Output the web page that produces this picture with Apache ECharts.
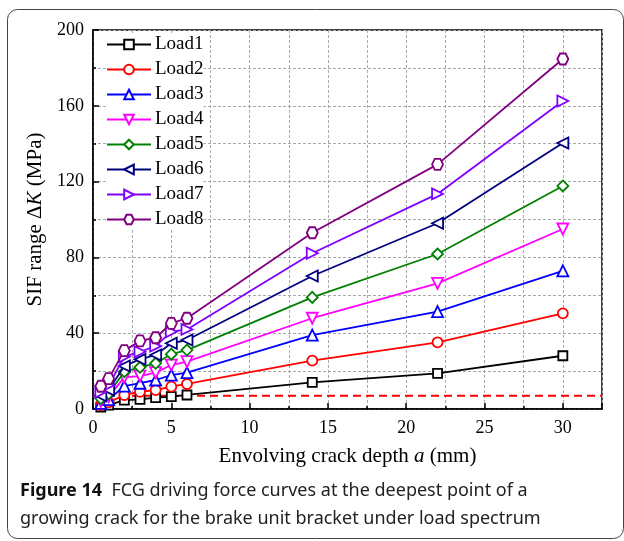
<!DOCTYPE html>
<html>
<head>
<meta charset="utf-8">
<script src="https://cdn.jsdelivr.net/npm/echarts@6/dist/echarts.min.js"></script>
<style>html,body{margin:0;padding:0;background:#fff}#c{width:624px;height:541px}</style>
</head>
<body>
<div id="c"></div>
<script>
// ---- data ----
var crackDepth = [0.5, 1, 2, 3, 4, 5, 6, 14, 22, 30];
var load1 = [1.0, 2.0, 4.7, 5.1, 6.0, 6.5, 7.4, 14.1, 18.8, 28.1];
var load2 = [2.0, 3.5, 7.4, 9.1, 10.0, 11.8, 13.2, 25.5, 35.2, 50.5];
var load3 = [3.0, 5.0, 12.1, 13.6, 15.3, 17.9, 19.2, 39.0, 51.4, 72.9];
var load4 = [4.0, 6.5, 16.7, 17.4, 19.2, 23.2, 25.0, 47.9, 66.3, 95.0];
var load5 = [5.5, 8.0, 19.7, 22.0, 24.1, 28.9, 31.1, 58.9, 81.8, 117.7];
var load6 = [7.0, 10.0, 22.7, 26.2, 28.5, 34.7, 36.4, 70.2, 98.0, 140.4];
var load7 = [9.0, 12.5, 27.6, 30.2, 33.2, 40.8, 42.0, 82.2, 113.5, 162.5];
var load8 = [12.0, 16.0, 30.8, 35.9, 37.6, 45.2, 47.9, 93.0, 129.1, 184.7];
var seriesNames = ['Load1','Load2','Load3','Load4','Load5','Load6','Load7','Load8'];
var thresholdValue = 7;
var xRange = [0, 32.5];
var yRange = [0, 200];

// ---- styles ----
var seriesValues = [load1, load2, load3, load4, load5, load6, load7, load8];
var colors = ['#000000','#ff0000','#0000ff','#ff00ff','#008000','#000080','#8000ff','#800080'];
var hexagon = 'path://M-1,0 L-0.5,-0.866 L0.5,-0.866 L1,0 L0.5,0.866 L-0.5,0.866 Z';
var symbols = ['rect','circle','triangle','triangle','diamond','triangle','triangle', hexagon];
var rotations = [0,0,0,180,0,90,-90,0];
var sizes = [9,10,11,11,11,11,11,11];
var serif = '"Liberation Serif","Times New Roman",serif';
var sans = '"Noto Sans","Open Sans",sans-serif';

function pairs(vals){ return crackDepth.map(function(x,i){ return [x, vals[i]]; }); }

var series = seriesNames.map(function(n, k){
  return {
    name: n, type: 'line', xAxisIndex: 0, yAxisIndex: 0,
    data: pairs(seriesValues[k]),
    symbol: symbols[k], symbolSize: sizes[k], symbolRotate: rotations[k],
    showAllSymbol: true,
    lineStyle: {color: colors[k], width: 1.8},
    itemStyle: {color: '#ffffff', borderColor: colors[k], borderWidth: 1.8},
    z: 3 + k, animation: false
  };
});
series.unshift({
  name: 'threshold', type: 'line', xAxisIndex: 0, yAxisIndex: 0,
  data: [[xRange[0], thresholdValue], [xRange[1], thresholdValue]],
  symbol: 'none', lineStyle: {color: '#ff0000', width: 2, type: [8, 5]},
  z: 2, animation: false, silent: true
});

var chart = echarts.init(document.getElementById('c'), null, {renderer: 'canvas'});
chart.setOption({
  animation: false,
  backgroundColor: '#ffffff',
  grid: {left: 93, top: 30, right: 22, bottom: 132, show: true, borderColor: '#000', borderWidth: 1.5, backgroundColor: 'transparent'},
  legend: {
    data: seriesNames, orient: 'vertical', left: 106, top: 35, padding: 0,
    itemWidth: 44, itemHeight: 12, itemGap: 6,
    textStyle: {fontFamily: serif, fontSize: 19, color: '#000', lineHeight: 18, padding: [0, 0, 0, -1]},
    backgroundColor: '#fff'
  },
  xAxis: [
    {type: 'value', min: xRange[0], max: xRange[1], interval: 5, position: 'bottom',
     name: '{r|Envolving crack depth }{i|a}{r| (mm)}', nameLocation: 'middle', nameGap: 37,
     nameTextStyle: {rich: {r: {fontFamily: serif, fontSize: 21, color: '#000'}, i: {fontFamily: serif, fontSize: 21, fontStyle: 'italic', color: '#000'}}},
     axisLine: {show: true, lineStyle: {color: '#000', width: 1.5}},
     axisTick: {show: true, inside: true, length: 6, lineStyle: {color: '#000', width: 1.5}},
     axisLabel: {margin: 10, fontFamily: serif, fontSize: 18, color: '#000',
       formatter: function(v){ return (v % 5 === 0) ? String(v) : ''; }},
     splitLine: {show: false}},
    {type: 'value', min: xRange[0], max: xRange[1], interval: 2.5, position: 'bottom',
     axisLine: {show: false}, axisLabel: {show: false},
     axisTick: {show: true, inside: true, length: 3, lineStyle: {color: '#000', width: 1.5}},
     splitLine: {show: true, lineStyle: {color: '#a8a8a8', width: 1, type: [3, 2]}}}
  ],
  yAxis: [
    {type: 'value', min: yRange[0], max: yRange[1], interval: 40, position: 'left',
     name: '{r|SIF range Δ}{i|K}{r| (MPa)}', nameLocation: 'middle', nameGap: 44, nameRotate: 90,
     nameTextStyle: {rich: {r: {fontFamily: serif, fontSize: 21, color: '#000'}, i: {fontFamily: serif, fontSize: 21, fontStyle: 'italic', color: '#000'}}},
     axisLine: {show: true, lineStyle: {color: '#000', width: 1.5}},
     axisTick: {show: true, inside: true, length: 6, lineStyle: {color: '#000', width: 1.5}},
     axisLabel: {margin: 9, fontFamily: serif, fontSize: 18, color: '#000'},
     splitLine: {show: false}},
    {type: 'value', min: yRange[0], max: yRange[1], interval: 20, position: 'left',
     axisLine: {show: false}, axisLabel: {show: false},
     axisTick: {show: true, inside: true, length: 3, lineStyle: {color: '#000', width: 1.5}},
     splitLine: {show: true, lineStyle: {color: '#a8a8a8', width: 1, type: [3, 2]}}}
  ],
  graphic: [
    {type: 'rect', left: 5, top: 7, shape: {width: 616, height: 529, r: 10}, silent: true, z: -10,
     style: {fill: 'none', stroke: '#444', lineWidth: 1}},
    {type: 'text', x: 20, y: 491, z: 10,
     style: {text: '{b|Figure 14}{n|  FCG driving force curves at the deepest point of a}',
       verticalAlign: 'middle',
       rich: {b: {fontFamily: sans, fontWeight: 'bold', fontSize: 18, fill: '#111'},
              n: {fontFamily: sans, fontSize: 18, fill: '#222'}}}},
    {type: 'text', x: 20, y: 519, z: 10,
     style: {text: 'growing crack for the brake unit bracket under load spectrum', verticalAlign: 'middle',
       fontFamily: sans, fontSize: 18, fill: '#222'}}
  ],
  series: series
});
</script>
</body>
</html>
